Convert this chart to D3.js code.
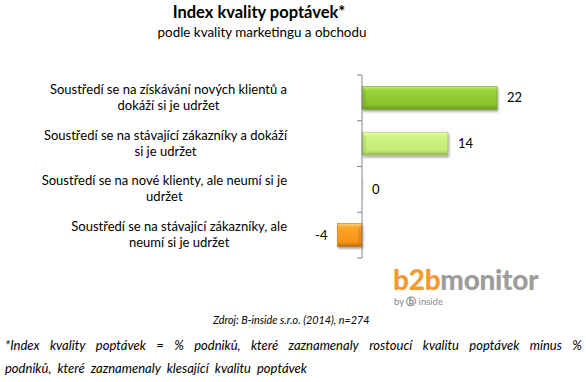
<!DOCTYPE html>
<html>
<head>
<meta charset="utf-8">
<script src="https://cdn.jsdelivr.net/npm/d3@7"></script>
<style>
body{margin:0;background:#fff;}
text{font-family:Lato,"Open Sans",sans-serif;fill:#000;}
</style>
</head>
<body>
<div id="chart"></div>
<script>
var WIDTH=586,
	HEIGHT=382;

var categories=[
	"Soustředí se na získávání nových klientů a dokáží si je udržet",
	"Soustředí se na stávající zákazníky a dokáží si je udržet",
	"Soustředí se na nové klienty, ale neumí si je udržet",
	"Soustředí se na stávající zákazníky, ale neumí si je udržet"
];
// wrapped the same way as the picture
var labelLines=[
	["Soustředí se na získávání nových klientů a","dokáží si je udržet"],
	["Soustředí se na stávající zákazníky a dokáží","si je udržet"],
	["Soustředí se na nové klienty, ale neumí si je","udržet"],
	["Soustředí se na stávající zákazníky, ale","neumí si je udržet"]
];
var values=[22,14,0,-4];
var barColors=["green","lightgreen","none","orange"];

var title="Index kvality poptávek*",
	subtitle="podle kvality marketingu a obchodu",
	source="Zdroj: B-inside s.r.o. (2014), n=274",
	footLine1="*Index kvality poptávek = % podniků, které zaznamenaly rostoucí kvalitu poptávek mínus %",
	footLine2="podniků, které zaznamenaly klesající kvalitu poptávek";

var rows=values.map(function(v,i){
	return {cat:categories[i],value:v,color:barColors[i],lines:labelLines[i]};
});

var svg=d3.select("#chart")
			.append("svg")
				.attr("width",WIDTH)
				.attr("height",HEIGHT);

var defs=svg.append("defs");

var palettes={
	green:["#c4ec6c","#9ad43c","#88c22e","#6e9c22"],
	lightgreen:["#eeffb4","#cff584","#c2ec72","#98b856"],
	orange:["#ffd070","#ffa428","#f89418","#c06c10"]
};
Object.keys(palettes).forEach(function(k){
	var p=palettes[k];
	var g=defs.append("linearGradient")
		.attr("id","g_"+k)
		.attr("x1",0).attr("y1",0).attr("x2",0).attr("y2",1);
	g.append("stop").attr("offset","0").attr("stop-color",p[0]);
	g.append("stop").attr("offset","0.18").attr("stop-color",p[1]);
	g.append("stop").attr("offset","0.8").attr("stop-color",p[2]);
	g.append("stop").attr("offset","1").attr("stop-color",p[3]);
});
var f=defs.append("filter").attr("id","shadow")
	.attr("x","-10%").attr("y","-20%").attr("width","130%").attr("height","160%");
f.append("feDropShadow").attr("dx",1).attr("dy",2).attr("stdDeviation",1.2)
	.attr("flood-color","#000").attr("flood-opacity",0.35);

// title
svg.append("text")
	.attr("x",259).attr("y",18)
	.attr("text-anchor","middle")
	.style("font-weight","bold")
	.style("font-size","16.5px")
	.text(title);
svg.append("text")
	.attr("x",262).attr("y",37)
	.attr("text-anchor","middle")
	.style("font-size","13.4px")
	.text(subtitle);

var xscale=d3.scaleLinear()
	.domain([-5,25])
	.range([331.3,515.5]);

var yscale=d3.scaleBand()
	.domain(categories)
	.range([75,258])
	.paddingInner(0.5)
	.paddingOuter(0.25);

var step=yscale.step(),
	bw=yscale.bandwidth(),
	gap=(step-bw)/2;

// bars
var bars=svg.append("g").selectAll("g.bar")
	.data(rows.filter(function(d){return d.value!=0;}))
	.enter()
		.append("g")
			.attr("class","bar");

bars.append("rect")
		.attr("x",function(d){return xscale(Math.min(0,d.value));})
		.attr("y",function(d){return yscale(d.cat);})
		.attr("width",function(d){return Math.abs(xscale(d.value)-xscale(0));})
		.attr("height",bw)
		.style("fill",function(d){return "url(#g_"+d.color+")";})
		.style("stroke",function(d){return palettes[d.color][3];})
		.style("stroke-width",0.6)
		.attr("filter","url(#shadow)");

// bevel at the axis end
bars.append("path")
		.attr("d",function(d){
			var y0=yscale(d.cat),
				xe=xscale(0),
				s=d.value>0?1:-1,
				b=4;
			return "M"+xe+","+y0+"L"+(xe+s*b)+","+(y0+b)+"L"+(xe+s*b)+","+(y0+bw-b)+"L"+xe+","+(y0+bw)+"Z";
		})
		.style("fill","#000")
		.style("fill-opacity",0.08);

// zero bar sliver
svg.append("rect")
	.attr("x",xscale(0)+0.5)
	.attr("y",yscale(categories[2])+2)
	.attr("width",1.5)
	.attr("height",bw-4)
	.style("fill","#ececec");

// axis
var axis=svg.append("g");
axis.append("line")
	.attr("x1",xscale(0)).attr("x2",xscale(0))
	.attr("y1",75).attr("y2",258)
	.style("stroke","#868686");
var ticks=categories.map(function(c){return yscale(c)-gap;});
ticks.push(yscale(categories[3])+bw+gap);
axis.selectAll("line.tick")
	.data(ticks)
	.enter()
		.append("line")
			.attr("class","tick")
			.attr("x1",xscale(0)-5).attr("x2",xscale(0))
			.attr("y1",function(d){return d;})
			.attr("y2",function(d){return d;})
			.style("stroke","#868686");

// value labels
svg.append("g").selectAll("text")
	.data(rows)
	.enter()
		.append("text")
			.attr("x",function(d){return d.value>=0?xscale(d.value)+10:xscale(d.value)-10;})
			.attr("y",function(d){return yscale(d.cat)+bw/2+4.5;})
			.attr("text-anchor",function(d){return d.value>=0?"start":"end";})
			.style("font-size","13px")
			.text(function(d){return d.value;});

// category labels
var labels=svg.append("g").selectAll("text.cat")
	.data(rows)
	.enter()
		.append("text")
			.attr("class","cat")
			.attr("text-anchor","middle")
			.style("font-size","13px");
labels.each(function(d){
	var t=d3.select(this),
		cy=yscale(d.cat)+bw/2,
		spans=t.selectAll("tspan").data(d.lines).enter()
			.append("tspan")
				.attr("y",function(l,j){return cy-8+j*16+4;})
				.text(function(l){return l;}),
		w=d3.max(spans.nodes(),function(n){return n.getComputedTextLength();}),
		cx=287-w/2;
	spans.attr("x",cx);
});

// logo
var logo=svg.append("text")
	.attr("x",393).attr("y",290)
	.style("font-family","Lato,sans-serif")
	.style("font-weight","900")
	.style("font-size","28px")
	.style("letter-spacing","-0.3px");
logo.append("tspan").style("fill","#f39a30").text("b2b");
logo.append("tspan").style("fill","#9d9d9d").text("monitor");
var by=svg.append("text")
	.attr("x",394).attr("y",305)
	.style("font-size","9.5px")
	.style("fill","#8a8a8a");
by.append("tspan").style("fill","#8a8a8a").text("by ");
by.append("tspan").style("fill","#8a8a8a").style("font-weight","bold").text("\u24d1 ");
by.append("tspan").style("fill","#8a8a8a").text("inside");

// source
svg.append("text")
	.attr("x",213).attr("y",324)
	.style("font-style","italic")
	.style("font-size","10.8px")
	.text(source);

// footnote, first line justified
function justify(str,x0,x1,y){
	var words=str.split(" ");
	var t=svg.append("text").attr("y",y)
		.style("font-style","italic")
		.style("font-size","13px");
	var spans=words.map(function(w){
		return t.append("tspan").text(w);
	});
	var total=d3.sum(spans,function(s){return s.node().getComputedTextLength();});
	var space=(x1-x0-total)/(words.length-1);
	var x=x0;
	spans.forEach(function(s){
		s.attr("x",x);
		x+=s.node().getComputedTextLength()+space;
	});
}
justify(footLine1,5,582,350);
svg.append("text")
	.attr("x",5).attr("y",373)
	.style("font-style","italic")
	.style("font-size","13px")
	.style("word-spacing","3px")
	.text(footLine2);
</script>
</body>
</html>
